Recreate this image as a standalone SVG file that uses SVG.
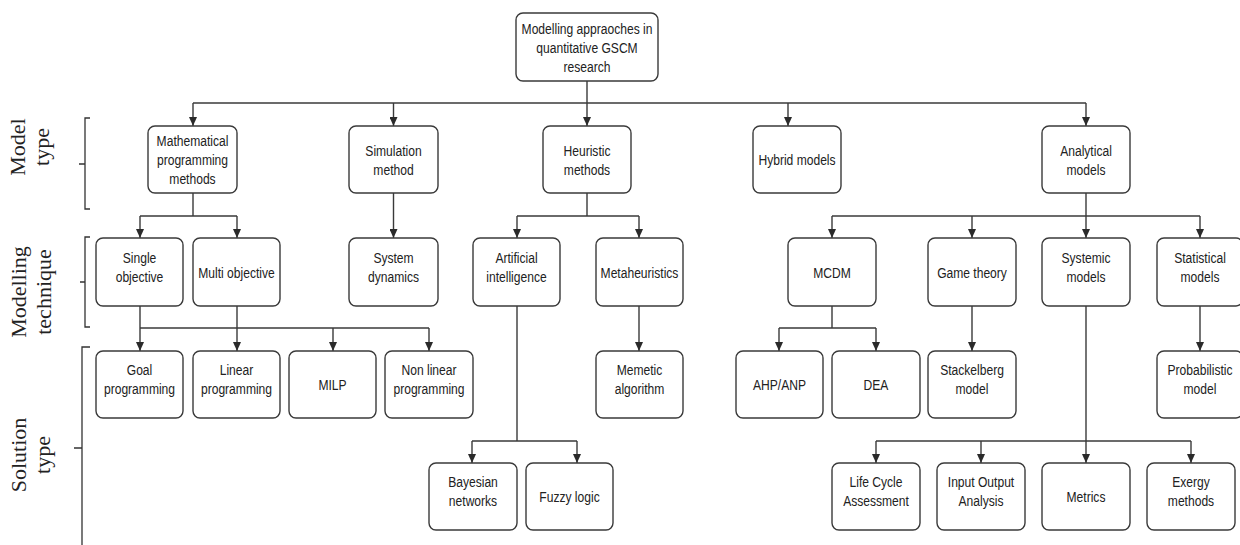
<svg xmlns="http://www.w3.org/2000/svg" width="1240" height="545" viewBox="0 0 1240 545">
<style>
.box{fill:#fff;stroke:#3a3a3a;stroke-width:1.4}
.t{font-family:"Liberation Sans",Arial,sans-serif;font-size:15.5px;fill:#222;text-anchor:middle}
.c{fill:none;stroke:#3a3a3a;stroke-width:1.4}
.br{fill:none;stroke:#333;stroke-width:1.3}
.lab{font-family:"Liberation Serif","Times New Roman",serif;font-size:22px;fill:#222;text-anchor:middle}
</style>
<defs>
<marker id="ah" markerUnits="userSpaceOnUse" markerWidth="9" markerHeight="8" viewBox="0 0 9 8" refX="9" refY="4" orient="auto">
<path d="M0,0 L9,4 L0,8 z" fill="#2a2a2a"/>
</marker>
</defs>
<rect width="1240" height="545" fill="#fff"/>

<g id="brackets">
<path class="br" d="M90,118 H85 V209 H90 M85,164 H79"/>
<path class="br" d="M90,237 H85 V327 H90 M85,282 H80"/>
<path class="br" d="M90,347 H82 V545 M82,448 H74"/>
<text class="lab" transform="translate(25,147) rotate(-90)"><tspan x="0" y="0">Model</tspan><tspan x="0" y="24">type</tspan></text>
<text class="lab" transform="translate(26,292) rotate(-90)"><tspan x="0" y="0">Modelling</tspan><tspan x="0" y="25">technique</tspan></text>
<text class="lab" transform="translate(26,455) rotate(-90)"><tspan x="0" y="0">Solution</tspan><tspan x="0" y="24">type</tspan></text>
</g>

<g id="connectors">
<path class="c" d="M587,81 V126" marker-end="url(#ah)"/>
<path class="c" d="M193,103 H1086"/>
<path class="c" d="M193,103 V126" marker-end="url(#ah)"/>
<path class="c" d="M393.5,103 V126" marker-end="url(#ah)"/>
<path class="c" d="M788,103 V126" marker-end="url(#ah)"/>
<path class="c" d="M1086,103 V126" marker-end="url(#ah)"/>

<path class="c" d="M193,193 V216 M140,216 H237"/>
<path class="c" d="M140,216 V238" marker-end="url(#ah)"/>
<path class="c" d="M237,216 V238" marker-end="url(#ah)"/>
<path class="c" d="M393.5,193 V238" marker-end="url(#ah)"/>
<path class="c" d="M587,193 V216 M517,216 H639"/>
<path class="c" d="M517,216 V238" marker-end="url(#ah)"/>
<path class="c" d="M639,216 V238" marker-end="url(#ah)"/>
<path class="c" d="M1086,193 V238" marker-end="url(#ah)"/>
<path class="c" d="M832,216 H1200"/>
<path class="c" d="M832,216 V238" marker-end="url(#ah)"/>
<path class="c" d="M972,216 V238" marker-end="url(#ah)"/>
<path class="c" d="M1200,216 V238" marker-end="url(#ah)"/>

<path class="c" d="M140,306 V351" marker-end="url(#ah)"/>
<path class="c" d="M237,306 V351" marker-end="url(#ah)"/>
<path class="c" d="M140,328 H429"/>
<path class="c" d="M333,328 V351" marker-end="url(#ah)"/>
<path class="c" d="M429,328 V351" marker-end="url(#ah)"/>
<path class="c" d="M639,306 V351" marker-end="url(#ah)"/>
<path class="c" d="M832,306 V328 M779,328 H876"/>
<path class="c" d="M779,328 V351" marker-end="url(#ah)"/>
<path class="c" d="M876,328 V351" marker-end="url(#ah)"/>
<path class="c" d="M972,306 V351" marker-end="url(#ah)"/>
<path class="c" d="M1200,306 V351" marker-end="url(#ah)"/>

<path class="c" d="M517,306 V441 M472,441 H577"/>
<path class="c" d="M472,441 V463" marker-end="url(#ah)"/>
<path class="c" d="M577,441 V463" marker-end="url(#ah)"/>
<path class="c" d="M1086,306 V463" marker-end="url(#ah)"/>
<path class="c" d="M876,441 H1191"/>
<path class="c" d="M876,441 V463" marker-end="url(#ah)"/>
<path class="c" d="M981,441 V463" marker-end="url(#ah)"/>
<path class="c" d="M1191,441 V463" marker-end="url(#ah)"/>
</g>

<g id="root"><rect class="box" x="516" y="13" width="142" height="68" rx="7"/>
<text class="t" transform="translate(587,33.5) scale(0.78,1)">Modelling appraoches in</text>
<text class="t" transform="translate(587,52.5) scale(0.78,1)">quantitative GSCM</text>
<text class="t" transform="translate(587,71.5) scale(0.78,1)">research</text></g>

<g id="math"><rect class="box" x="148" y="126" width="89" height="67" rx="7"/>
<text class="t" transform="translate(192.5,146) scale(0.78,1)">Mathematical</text>
<text class="t" transform="translate(192.5,165) scale(0.78,1)">programming</text>
<text class="t" transform="translate(192.5,184) scale(0.78,1)">methods</text></g>
<g id="simulation"><rect class="box" x="349" y="126" width="89" height="67" rx="7"/>
<text class="t" transform="translate(393.5,155.5) scale(0.78,1)">Simulation</text>
<text class="t" transform="translate(393.5,174.5) scale(0.78,1)">method</text></g>
<g id="heuristic"><rect class="box" x="543" y="126" width="88" height="67" rx="7"/>
<text class="t" transform="translate(587,155.5) scale(0.78,1)">Heuristic</text>
<text class="t" transform="translate(587,174.5) scale(0.78,1)">methods</text></g>
<g id="hybrid"><rect class="box" x="753" y="126" width="88" height="67" rx="7"/>
<text class="t" transform="translate(797,165) scale(0.78,1)">Hybrid models</text></g>
<g id="analytical"><rect class="box" x="1042" y="126" width="88" height="67" rx="7"/>
<text class="t" transform="translate(1086,155.5) scale(0.78,1)">Analytical</text>
<text class="t" transform="translate(1086,174.5) scale(0.78,1)">models</text></g>

<g id="single"><rect class="box" x="96" y="238" width="87" height="68" rx="7"/>
<text class="t" transform="translate(139.5,262.5) scale(0.78,1)">Single</text>
<text class="t" transform="translate(139.5,281.5) scale(0.78,1)">objective</text></g>
<g id="multi"><rect class="box" x="193" y="238" width="87" height="68" rx="7"/>
<text class="t" transform="translate(236.5,277.5) scale(0.78,1)">Multi objective</text></g>
<g id="sysdyn"><rect class="box" x="349" y="238" width="89" height="68" rx="7"/>
<text class="t" transform="translate(393.5,262.5) scale(0.78,1)">System</text>
<text class="t" transform="translate(393.5,281.5) scale(0.78,1)">dynamics</text></g>
<g id="ai"><rect class="box" x="473" y="238" width="87" height="68" rx="7"/>
<text class="t" transform="translate(516.5,262.5) scale(0.78,1)">Artificial</text>
<text class="t" transform="translate(516.5,281.5) scale(0.78,1)">intelligence</text></g>
<g id="meta"><rect class="box" x="596" y="238" width="87" height="68" rx="7"/>
<text class="t" transform="translate(639.5,277.5) scale(0.78,1)">Metaheuristics</text></g>
<g id="mcdm"><rect class="box" x="788" y="238" width="88" height="68" rx="7"/>
<text class="t" transform="translate(832,277.5) scale(0.78,1)">MCDM</text></g>
<g id="game"><rect class="box" x="928" y="238" width="88" height="68" rx="7"/>
<text class="t" transform="translate(972,277.5) scale(0.78,1)">Game theory</text></g>
<g id="systemic"><rect class="box" x="1042" y="238" width="88" height="68" rx="7"/>
<text class="t" transform="translate(1086,262.5) scale(0.78,1)">Systemic</text>
<text class="t" transform="translate(1086,281.5) scale(0.78,1)">models</text></g>
<g id="statistical"><rect class="box" x="1157" y="238" width="86" height="68" rx="7"/>
<text class="t" transform="translate(1200,262.5) scale(0.78,1)">Statistical</text>
<text class="t" transform="translate(1200,281.5) scale(0.78,1)">models</text></g>

<g id="goal"><rect class="box" x="96" y="351" width="87" height="67" rx="7"/>
<text class="t" transform="translate(139.5,375) scale(0.78,1)">Goal</text>
<text class="t" transform="translate(139.5,394) scale(0.78,1)">programming</text></g>
<g id="linear"><rect class="box" x="193" y="351" width="87" height="67" rx="7"/>
<text class="t" transform="translate(236.5,375) scale(0.78,1)">Linear</text>
<text class="t" transform="translate(236.5,394) scale(0.78,1)">programming</text></g>
<g id="milp"><rect class="box" x="289" y="351" width="87" height="67" rx="7"/>
<text class="t" transform="translate(332.5,390) scale(0.78,1)">MILP</text></g>
<g id="nonlinear"><rect class="box" x="385" y="351" width="88" height="67" rx="7"/>
<text class="t" transform="translate(429,375) scale(0.78,1)">Non linear</text>
<text class="t" transform="translate(429,394) scale(0.78,1)">programming</text></g>
<g id="memetic"><rect class="box" x="596" y="351" width="87" height="67" rx="7"/>
<text class="t" transform="translate(639.5,375) scale(0.78,1)">Memetic</text>
<text class="t" transform="translate(639.5,394) scale(0.78,1)">algorithm</text></g>
<g id="ahp"><rect class="box" x="736" y="351" width="87" height="67" rx="7"/>
<text class="t" transform="translate(779.5,390) scale(0.78,1)">AHP/ANP</text></g>
<g id="dea"><rect class="box" x="832" y="351" width="88" height="67" rx="7"/>
<text class="t" transform="translate(876,390) scale(0.78,1)">DEA</text></g>
<g id="stackelberg"><rect class="box" x="928" y="351" width="88" height="67" rx="7"/>
<text class="t" transform="translate(972,375) scale(0.78,1)">Stackelberg</text>
<text class="t" transform="translate(972,394) scale(0.78,1)">model</text></g>
<g id="probabilistic"><rect class="box" x="1157" y="351" width="86" height="67" rx="7"/>
<text class="t" transform="translate(1200,375) scale(0.78,1)">Probabilistic</text>
<text class="t" transform="translate(1200,394) scale(0.78,1)">model</text></g>

<g id="bayesian"><rect class="box" x="429" y="463" width="88" height="67" rx="7"/>
<text class="t" transform="translate(473,487) scale(0.78,1)">Bayesian</text>
<text class="t" transform="translate(473,506) scale(0.78,1)">networks</text></g>
<g id="fuzzy"><rect class="box" x="526" y="463" width="87" height="67" rx="7"/>
<text class="t" transform="translate(569.5,502) scale(0.78,1)">Fuzzy logic</text></g>
<g id="lca"><rect class="box" x="832" y="463" width="88" height="67" rx="7"/>
<text class="t" transform="translate(876,487) scale(0.78,1)">Life Cycle</text>
<text class="t" transform="translate(876,506) scale(0.78,1)">Assessment</text></g>
<g id="io"><rect class="box" x="937" y="463" width="88" height="67" rx="7"/>
<text class="t" transform="translate(981,487) scale(0.78,1)">Input Output</text>
<text class="t" transform="translate(981,506) scale(0.78,1)">Analysis</text></g>
<g id="metrics"><rect class="box" x="1042" y="463" width="88" height="67" rx="7"/>
<text class="t" transform="translate(1086,502) scale(0.78,1)">Metrics</text></g>
<g id="exergy"><rect class="box" x="1147" y="463" width="88" height="67" rx="7"/>
<text class="t" transform="translate(1191,487) scale(0.78,1)">Exergy</text>
<text class="t" transform="translate(1191,506) scale(0.78,1)">methods</text></g>
</svg>
